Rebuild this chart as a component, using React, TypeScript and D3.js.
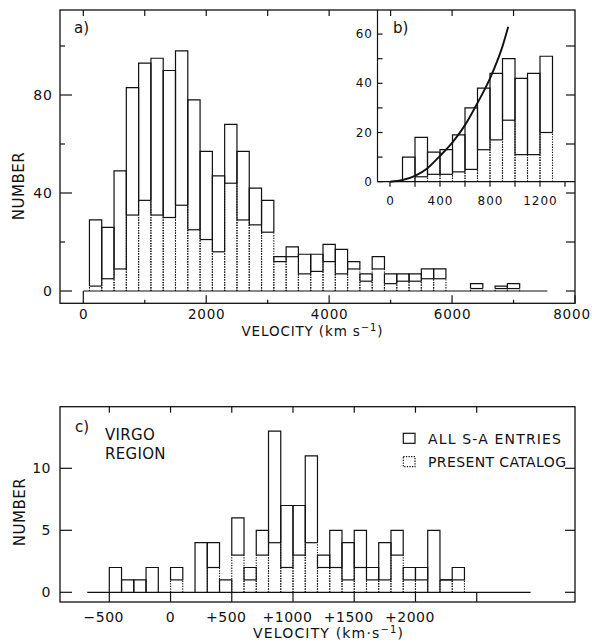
import React from "react"
import * as d3 from "d3"

const W = 592
const H = 644
const FONT = "'DejaVu Sans', Verdana, sans-serif"

// ---- panel a : all galaxies, 200 km/s bins (lower edge of each bin)
const binStartA = [100, 300, 500, 700, 900, 1100, 1300, 1500, 1700, 1900, 2100, 2300, 2500, 2700, 2900, 3100, 3300, 3500, 3700, 3900, 4100, 4300, 4500, 4700, 4900, 5100, 5300, 5500, 5700, 5900, 6100, 6300, 6500, 6700, 6900]
const allA = [29, 26, 49, 83, 93, 95, 90, 98, 78, 57, 47, 68, 57, 42, 37, 14, 18, 15, 15, 19, 17, 12, 7, 14, 7, 7, 7, 9, 9, 0, 0, 3, 0, 2, 3]
const presentA = [2, 5, 9, 31, 37, 31, 30, 35, 25, 21, 16, 44, 29, 27, 24, 12, 14, 7, 8, 12, 7, 9, 4, 9, 3, 4, 4, 5, 5, 0, 0, 1, 0, 1, 1]
const binWidthA = 200
const xTicksA = [0, 2000, 4000, 6000, 8000]
const xMinorA = [1000, 3000, 5000, 7000]
const yTicksA = [0, 40, 80]
const yMinorA = [20, 60, 100]
const baseA = [0, 7550]

// ---- panel b : inset, 100 km/s bins
const binStartB = [100, 200, 300, 400, 500, 600, 700, 800, 900, 1000, 1100, 1200]
const allB = [10, 18, 12, 13, 19, 30, 38, 44, 50, 42, 44, 51]
const presentB = [0, 2, 3, 3, 4, 5, 13, 17, 25, 11, 11, 20]
const binWidthB = 100
const xTicksB = [0, 200, 400, 600, 800, 1000, 1200, 1400]
const xLabelsB = [0, 400, 800, 1200]
const yTicksB = [0, 10, 20, 30, 40, 50, 60]
const yLabelsB = [0, 20, 40, 60]
const curveV = [0, 100, 200, 300, 400, 500, 600, 700, 800, 900, 946]
const curveN = [0, 0.7, 2.4, 5.5, 10.5, 16, 23, 32, 42, 55, 63]

// ---- panel c : Virgo region, 100 km/s bins
const binStartC = [-500, -400, -300, -200, -100, 0, 100, 200, 300, 400, 500, 600, 700, 800, 900, 1000, 1100, 1200, 1300, 1400, 1500, 1600, 1700, 1800, 1900, 2000, 2100, 2200, 2300]
const allC = [2, 1, 1, 2, 0, 2, 0, 4, 4, 1, 6, 2, 5, 13, 7, 7, 11, 3, 5, 4, 5, 2, 4, 5, 2, 2, 5, 1, 2]
const presentC = [0, 0, 0, 0, 0, 1, 0, 0, 2, 0, 3, 1, 3, 4, 2, 3, 4, 2, 2, 1, 2, 1, 1, 3, 1, 1, 0, 1, 1]
const binWidthC = 100
const xTicksC = [-500, 0, 500, 1000, 1500, 2000, 2500]
const xLabelsC = ["\u2212500", "0", "+500", "+1000", "+1500", "+2000"]
const yTicksC = [0, 5, 10]
const baseC = [-680, 2940]

const legendLabels = ["ALL S-A ENTRIES", "PRESENT CATALOG"]

const DOT = "1.3,1.3"

function Bars({ starts, all, present, width, x, y }) {
  const y0 = y(0)
  return (
    <g fill="none" stroke="#111">
      {starts.map((s, i) => {
        if (all[i] <= 0) return null
        const x0 = x(s)
        const x1 = x(s + width)
        const yT = y(all[i])
        const yP = y(present[i])
        return (
          <g key={i}>
            <path d={`M${x0},${yP}V${yT}H${x1}V${yP}`} strokeWidth={1.2} />
            {present[i] > 0 && (
              <>
                <path d={`M${x0},${y0}V${yP}M${x1},${y0}V${yP}`} strokeWidth={1.1} strokeDasharray={DOT} />
                <path d={`M${x0},${yP}H${x1}`} strokeWidth={1.2} />
              </>
            )}
          </g>
        )
      })}
    </g>
  )
}

export default function App() {
  // panel a scales
  const xA = d3.scaleLinear().domain([0, 8000]).range([83.3, 575])
  const yA = d3.scaleLinear().domain([0, 100]).range([291, 46])
  const fa = { x0: 60, x1: 575, y0: 10, y1: 303.3 }

  // inset scales
  const xB = d3.scaleLinear().domain([0, 1200]).range([390, 540])
  const yB = d3.scaleLinear().domain([0, 70]).range([181.7, 9.5])
  const bLeft = xB(-100)

  // panel c scales
  const xC = d3.scaleLinear().domain([-500, 2500]).range([109.3, 476.7])
  const yC = d3.scaleLinear().domain([0, 15]).range([592.3, 406.3])
  const fc = { x0: 60, x1: 575, y0: 406.7, y1: 602 }

  const curve = d3
    .line()
    .x(d => xB(d[0]))
    .y(d => yB(d[1]))
    .curve(d3.curveMonotoneX)(curveV.map((v, i) => [v, curveN[i]]))

  const txt = { fontFamily: FONT, fill: "#111" }

  return (
    <svg width={W} height={H} style={{ position: "absolute", left: 0, top: 0, background: "#fff" }}>
      {/* ================= panel a ================= */}
      <rect x={fa.x0} y={fa.y0} width={fa.x1 - fa.x0} height={fa.y1 - fa.y0} fill="none" stroke="#111" strokeWidth={1.3} />
      <g stroke="#111" strokeWidth={1.2}>
        {yTicksA.map(t => (
          <line key={"yl" + t} x1={fa.x0} x2={fa.x0 + 12} y1={yA(t)} y2={yA(t)} />
        ))}
        {yMinorA.map(t => (
          <line key={"ym" + t} x1={fa.x0} x2={fa.x0 + 5} y1={yA(t)} y2={yA(t)} />
        ))}
        {[0, 20, 40, 60, 80, 100].map(t => (
          <line key={"yr" + t} x1={fa.x1} x2={fa.x1 - 9} y1={yA(t)} y2={yA(t)} />
        ))}
        {xTicksA.map(t => (
          <line key={"xb" + t} x1={xA(t)} x2={xA(t)} y1={fa.y1} y2={t === 0 ? yA(0) : fa.y1 - 8} />
        ))}
        {xMinorA.map(t => (
          <line key={"xm" + t} x1={xA(t)} x2={xA(t)} y1={fa.y1} y2={fa.y1 - 3.5} />
        ))}
        {[...xTicksA, ...xMinorA].filter(t => t < 8000).map(t => (
          <line key={"xt" + t} x1={xA(t)} x2={xA(t)} y1={fa.y0} y2={fa.y0 + 6} />
        ))}
        <line x1={xA(baseA[0])} x2={xA(baseA[1])} y1={yA(0)} y2={yA(0)} />
      </g>
      <Bars starts={binStartA} all={allA} present={presentA} width={binWidthA} x={xA} y={yA} />
      <g {...txt} fontSize={14} letterSpacing={1}>
        {yTicksA.map(t => (
          <text key={t} x={53} y={yA(t)} textAnchor="end" dominantBaseline="central">{t}</text>
        ))}
      </g>
      <g {...txt} fontSize={13.5} letterSpacing={0.8}>
        {xTicksA.map(t => (
          <text key={t} x={t === 8000 ? 572 : xA(t) + 0.5} y={319} textAnchor="middle">{t}</text>
        ))}
      </g>
      <text {...txt} fontSize={15} x={74} y={33}>a)</text>
      <text {...txt} fontSize={15} letterSpacing={0.5} transform="translate(24,186) rotate(-90)" textAnchor="middle">NUMBER</text>
      <text {...txt} fontSize={13.5} x={312} y={336} textAnchor="middle" textLength={141} lengthAdjust="spacing">
        VELOCITY (km s<tspan dy={-5} fontSize={10}>{"\u22121"}</tspan>
        <tspan dy={5}>)</tspan>
      </text>

      {/* ================= inset b ================= */}
      <g stroke="#111" strokeWidth={1.2}>
        <line x1={bLeft} x2={bLeft} y1={fa.y0} y2={yB(0)} />
        <line x1={bLeft} x2={fa.x1} y1={yB(0)} y2={yB(0)} />
        {yTicksB.map(t => (
          <line key={"by" + t} x1={bLeft} x2={bLeft + 5} y1={yB(t)} y2={yB(t)} />
        ))}
        {xTicksB.map(t => (
          <line key={"bx" + t} x1={xB(t)} x2={xB(t)} y1={yB(0)} y2={yB(0) + 5} />
        ))}
      </g>
      <Bars starts={binStartB} all={allB} present={presentB} width={binWidthB} x={xB} y={yB} />
      <path d={curve} fill="none" stroke="#111" strokeWidth={1.9} />
      <g {...txt} fontSize={12} letterSpacing={1}>
        {yLabelsB.map(t => (
          <text key={t} x={373} y={yB(t)} textAnchor="end" dominantBaseline="central">{t}</text>
        ))}
        {xLabelsB.map(t => (
          <text key={t} x={xB(t) + 0.5} y={204.5} textAnchor="middle">{t}</text>
        ))}
      </g>
      <text {...txt} fontSize={15} x={393} y={33}>b)</text>

      {/* ================= panel c ================= */}
      <rect x={fc.x0} y={fc.y0} width={fc.x1 - fc.x0} height={fc.y1 - fc.y0} fill="none" stroke="#111" strokeWidth={1.3} />
      <g stroke="#111" strokeWidth={1.2}>
        {yTicksC.map(t => (
          <line key={"cl" + t} x1={fc.x0} x2={fc.x0 + 12} y1={yC(t)} y2={yC(t)} />
        ))}
        {yTicksC.map(t => (
          <line key={"cr" + t} x1={fc.x1} x2={fc.x1 - 10} y1={yC(t)} y2={yC(t)} />
        ))}
        {xTicksC.map(t => (
          <line key={"cb" + t} x1={xC(t)} x2={xC(t)} y1={fc.y1} y2={yC(0)} />
        ))}
        {xTicksC.map(t => (
          <line key={"ct" + t} x1={xC(t)} x2={xC(t)} y1={fc.y0} y2={fc.y0 + 6} />
        ))}
        <line x1={xC(baseC[0])} x2={xC(baseC[1])} y1={yC(0)} y2={yC(0)} />
      </g>
      <Bars starts={binStartC} all={allC} present={presentC} width={binWidthC} x={xC} y={yC} />
      <g {...txt} fontSize={14} letterSpacing={0.5}>
        {yTicksC.map(t => (
          <text key={t} x={51} y={yC(t)} textAnchor="end" dominantBaseline="central">{t}</text>
        ))}
        {xLabelsC.map((l, i) => (
          <text key={l} x={xC(xTicksC[i]) - (i === 1 ? 0 : 5.5)} y={622} textAnchor="middle">{l}</text>
        ))}
      </g>
      <text {...txt} fontSize={15} x={75} y={432}>c)</text>
      <text {...txt} fontSize={15} letterSpacing={0.3} x={105} y={440}>VIRGO</text>
      <text {...txt} fontSize={15} letterSpacing={0.3} x={105} y={459}>REGION</text>
      <text {...txt} fontSize={15} letterSpacing={0.5} transform="translate(25,512) rotate(-90)" textAnchor="middle">NUMBER</text>
      <text {...txt} fontSize={14} x={328} y={638} textAnchor="middle" textLength={150} lengthAdjust="spacing">
        VELOCITY (km{"\u00b7"}s<tspan dy={-5} fontSize={10}>{"\u22121"}</tspan>
        <tspan dy={5}>)</tspan>
      </text>

      {/* legend */}
      <rect x={403.3} y={433.3} width={11.7} height={10} fill="none" stroke="#111" strokeWidth={1.2} />
      <rect x={403.3} y={456.7} width={11.7} height={10} fill="none" stroke="#111" strokeWidth={1.2} strokeDasharray={DOT} />
      <text {...txt} fontSize={14} x={428} y={443.5} textLength={133} lengthAdjust="spacing">{legendLabels[0]}</text>
      <text {...txt} fontSize={14} x={428} y={467} textLength={138} lengthAdjust="spacing">{legendLabels[1]}</text>
    </svg>
  )
}
